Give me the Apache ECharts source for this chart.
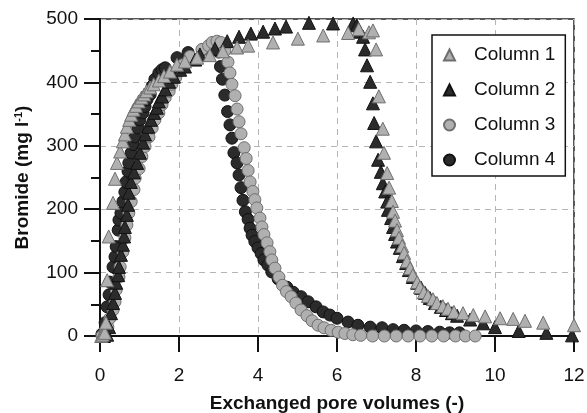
<!DOCTYPE html>
<html>
<head>
<meta charset="utf-8">
<script src="https://cdn.jsdelivr.net/npm/echarts@6/dist/echarts.min.js"></script>
<style>
  html, body { margin: 0; padding: 0; background: #fff; }
  #main { width: 587px; height: 413px; }
</style>
</head>
<body>
<div id="main"></div>
<script>
// [exchanged pore volumes, bromide mg/l]
const column1 = [
  [0.03, 0], [0.07, 2], [0.12, 5], [0.15, 21], [0.18, 88], [0.22, 157], [0.33, 210], [0.38, 248],
  [0.43, 273], [0.51, 291], [0.58, 307], [0.63, 318], [0.68, 330], [0.74, 341], [0.79, 349],
  [0.85, 357], [0.91, 363], [0.98, 370], [1.05, 376], [1.12, 381], [1.18, 386], [1.27, 392],
  [1.36, 397], [1.49, 403], [1.62, 410], [1.77, 417], [1.95, 428], [2.15, 433], [2.46, 439],
  [2.78, 443], [3.11, 449], [3.47, 455], [3.75, 458], [4.38, 463], [5.01, 469], [5.65, 474],
  [6.28, 478], [6.55, 484], [6.81, 479], [6.91, 482], [6.99, 452], [7.06, 378], [7.16, 327],
  [7.19, 289], [7.27, 257], [7.32, 234], [7.39, 213], [7.42, 196], [7.47, 182], [7.52, 167],
  [7.57, 155], [7.65, 142], [7.70, 131], [7.77, 118], [7.85, 107], [7.92, 96], [8.03, 85],
  [8.10, 77], [8.20, 69], [8.30, 63], [8.43, 58], [8.53, 52], [8.68, 47], [8.81, 43], [8.96, 38],
  [9.19, 36], [9.45, 33], [9.75, 31], [10.13, 28], [10.46, 27], [10.76, 24], [11.22, 21], [12.0, 17]
];
const column2 = [
  [0.10, 0], [0.18, 2], [0.23, 14], [0.28, 36], [0.33, 52], [0.38, 68], [0.41, 84], [0.46, 96],
  [0.48, 109], [0.53, 128], [0.58, 144], [0.61, 157], [0.63, 172], [0.68, 191], [0.71, 207],
  [0.73, 226], [0.78, 243], [0.86, 258], [0.94, 273], [1.01, 289], [1.09, 305], [1.14, 318],
  [1.22, 330], [1.29, 341], [1.37, 352], [1.44, 360], [1.49, 370], [1.57, 378], [1.65, 389],
  [1.75, 401], [1.87, 409], [2.03, 420], [2.15, 425], [2.41, 436], [2.53, 444], [2.91, 453],
  [3.22, 465], [3.52, 472], [3.82, 477], [4.13, 480], [4.43, 485], [4.71, 488], [5.29, 494],
  [5.90, 493], [6.41, 493], [6.50, 490], [6.58, 480], [6.66, 472], [6.71, 452], [6.76, 427],
  [6.84, 401], [6.91, 367], [6.94, 336], [6.99, 307], [7.04, 278], [7.11, 259], [7.16, 241],
  [7.22, 228], [7.27, 212], [7.29, 199], [7.37, 186], [7.42, 172], [7.47, 161], [7.52, 149],
  [7.59, 139], [7.67, 126], [7.75, 115], [7.82, 104], [7.92, 93], [8.03, 84], [8.13, 76],
  [8.23, 68], [8.35, 60], [8.48, 52], [8.63, 46], [8.76, 41], [8.91, 36], [9.04, 32], [9.37, 26],
  [9.70, 20], [10.0, 14], [10.6, 8], [11.3, 5], [11.95, 1]
];
const column3 = [
  [0.05, 0], [0.13, 5], [0.20, 14], [0.25, 28], [0.33, 41], [0.38, 54], [0.41, 73], [0.48, 93],
  [0.51, 109], [0.58, 133], [0.63, 155], [0.68, 175], [0.73, 194], [0.79, 212], [0.86, 231],
  [0.89, 249], [0.99, 264], [1.06, 283], [1.14, 299], [1.24, 314], [1.32, 328], [1.39, 341],
  [1.49, 352], [1.57, 365], [1.65, 376], [1.75, 386], [1.82, 397], [1.92, 408], [2.00, 418],
  [2.10, 428], [2.28, 441], [2.58, 452], [2.75, 458], [2.84, 463], [2.96, 465], [3.06, 463],
  [3.16, 450], [3.24, 432], [3.29, 415], [3.34, 397], [3.42, 379], [3.47, 358], [3.52, 338],
  [3.57, 319], [3.65, 297], [3.70, 280], [3.75, 261], [3.80, 243], [3.87, 228], [3.92, 215],
  [3.97, 202], [4.05, 186], [4.10, 172], [4.15, 160], [4.23, 147], [4.30, 133], [4.35, 120],
  [4.43, 107], [4.53, 93], [4.62, 80], [4.72, 70], [4.84, 62], [4.96, 52], [5.09, 41], [5.24, 32],
  [5.37, 24], [5.52, 17], [5.67, 13], [5.85, 9], [6.03, 6], [6.20, 4], [6.40, 2], [6.60, 1],
  [6.90, 0], [7.20, 0], [7.50, 0], [7.80, 0], [8.10, 0], [8.40, 0], [8.70, 0], [9.00, 0],
  [9.25, 0], [9.50, 0]
];
const column4 = [
  [0.05, 3], [0.13, 21], [0.18, 46], [0.23, 65], [0.25, 85], [0.33, 109], [0.38, 125], [0.41, 141],
  [0.46, 167], [0.48, 183], [0.53, 194], [0.58, 212], [0.63, 227], [0.66, 243], [0.71, 260],
  [0.73, 273], [0.79, 289], [0.84, 302], [0.89, 314], [0.96, 328], [1.01, 341], [1.09, 352],
  [1.14, 362], [1.19, 373], [1.27, 381], [1.32, 394], [1.39, 405], [1.49, 415], [1.57, 420],
  [1.65, 423], [1.95, 439], [2.23, 447], [2.61, 452], [2.89, 460], [3.01, 448], [3.05, 425],
  [3.10, 405], [3.16, 380], [3.23, 354], [3.29, 333], [3.34, 312], [3.39, 289], [3.47, 273],
  [3.52, 254], [3.57, 234], [3.62, 214], [3.68, 196], [3.75, 184], [3.80, 170], [3.85, 159],
  [3.92, 149], [4.00, 139], [4.08, 130], [4.15, 120], [4.25, 112], [4.35, 101], [4.51, 90],
  [4.73, 77], [4.89, 69], [5.09, 62], [5.27, 54], [5.47, 46], [5.65, 38], [5.82, 33], [6.00, 28],
  [6.28, 22], [6.53, 17], [6.84, 14], [7.14, 13], [7.42, 10], [7.70, 9], [8.00, 8], [8.30, 7],
  [8.60, 6], [8.85, 5], [9.10, 5]
];
const seriesNames = ['Column 1', 'Column 2', 'Column 3', 'Column 4'];

const font = 'Liberation Sans, Arial, Helvetica, sans-serif';
const light = '#b0b0b0';
const dark = '#2b2b2b';

function scatter (name, data, symbol, fill, border, size) {
  return {
    name: name,
    type: 'scatter',
    data: data,
    symbol: symbol,
    symbolSize: size,
    clip: false,
    itemStyle: { color: fill, borderColor: border, borderWidth: 1, opacity: 1 }
  };
}

var myChart = echarts.init(document.getElementById('main'));
myChart.setOption({
  animation: false,
  textStyle: { fontFamily: font },
  grid: {
    left: 100, right: 13, top: 19, bottom: 77,
    outerBoundsMode: 'none',
    show: true, borderColor: '#222', borderWidth: 1.5
  },
  legend: {
    orient: 'vertical',
    left: 432,
    top: 35,
    data: seriesNames,
    itemWidth: 11,
    itemHeight: 11,
    itemGap: 15,
    padding: [10, 10, 6, 11],
    borderColor: '#111',
    borderWidth: 1.5,
    backgroundColor: '#fff',
    textStyle: { fontSize: 19, color: '#111', lineHeight: 20, padding: [0, 0, 0, 14] }
  },
  xAxis: {
    type: 'value',
    min: 0, max: 12, interval: 2,
    name: 'Exchanged pore volumes (-)',
    nameLocation: 'middle',
    nameGap: 58,
    nameTextStyle: { fontSize: 19, fontWeight: 'bold', color: '#111' },
    axisLine: { onZero: false, lineStyle: { color: '#111', width: 2 } },
    axisTick: { length: 16, lineStyle: { color: '#111', width: 2 } },
    axisLabel: { fontSize: 19, color: '#111', margin: 30 },
    splitLine: { show: true, lineStyle: { color: '#b5b5b5', type: [6, 5], width: 1 } }
  },
  yAxis: {
    type: 'value',
    min: 0, max: 500, interval: 100,
    name: '{a|Bromide (mg l}{s|-1}{a|)}',
    nameLocation: 'middle',
    nameGap: 68,
    nameTextStyle: {
      rich: {
        a: { fontSize: 19, fontWeight: 'bold', color: '#111', fontFamily: font },
        s: { fontSize: 11, fontWeight: 'bold', color: '#111', fontFamily: font, verticalAlign: 'top' }
      }
    },
    axisLine: { onZero: false, lineStyle: { color: '#111', width: 2 } },
    axisTick: { length: 16, lineStyle: { color: '#111', width: 2 } },
    minorTick: { show: true, splitNumber: 2, length: 9, lineStyle: { color: '#111', width: 2 } },
    axisLabel: { fontSize: 19, color: '#111', margin: 22 },
    splitLine: { show: true, lineStyle: { color: '#b5b5b5', type: [6, 5], width: 1 } }
  },
  // drawing order: dark circles, grey circles, dark triangles, grey triangles on top
  series: [
    scatter('Column 4', column4, 'circle', dark, '#111', 12),
    scatter('Column 3', column3, 'circle', light, '#6e6e6e', 12),
    scatter('Column 2', column2, 'triangle', dark, '#111', 13),
    scatter('Column 1', column1, 'triangle', light, '#6e6e6e', 13)
  ]
});
</script>
</body>
</html>
